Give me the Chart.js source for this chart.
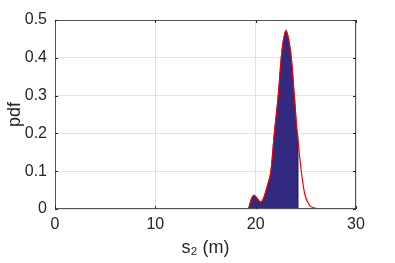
<!DOCTYPE html>
<html>
<head>
<meta charset="utf-8">
<script src="https://cdn.jsdelivr.net/npm/chart.js@4"></script>
<style>
    html, body { margin: 0; padding: 0; background: #fff; }
    #wrap { width: 395px; height: 263px; position: relative; }
</style>
</head>
<body>
<div id="wrap"><canvas id="pdf-chart"></canvas></div>
<script>
// kernel density estimate (red line)
const kdeX = [19.0, 19.3, 19.55, 19.83, 20.1, 20.5, 20.8, 21.2, 21.52, 21.86, 22.25, 22.55, 22.74, 23.02, 23.33, 23.55, 23.85, 24.15, 24.55, 24.88, 25.37, 25.8, 26.4, 27.0];
const kdeY = [0, 0.003, 0.025, 0.037, 0.03, 0.019, 0.03, 0.065, 0.1, 0.2, 0.3, 0.4, 0.443, 0.473, 0.443, 0.4, 0.3, 0.2, 0.1, 0.041, 0.01, 0.003, 0, 0];

// filled area (cut off at the right)
const areaX = [19.2, 19.3, 19.55, 19.83, 20.1, 20.5, 20.8, 21.2, 21.52, 21.86, 22.25, 22.55, 22.74, 23.02, 23.33, 23.55, 23.85, 24.15, 24.22, 24.23];
const areaY = [0, 0.003, 0.025, 0.036, 0.029, 0.018, 0.029, 0.064, 0.1, 0.199, 0.3, 0.4, 0.442, 0.47, 0.442, 0.4, 0.3, 0.2, 0.18, 0];

const xTicks = [0, 10, 20, 30];
const yTicks = [0, 0.1, 0.2, 0.3, 0.4, 0.5];

const toPoints = (xs, ys) => xs.map((x, i) => ({ x, y: ys[i] }));

// matlab style box + inward ticks
const boxPlugin = {
    id: 'box',
    afterDraw(chart) {
        const { ctx, chartArea: a, scales } = chart;
        ctx.save();
        ctx.strokeStyle = '#555';
        ctx.lineWidth = 1;
        ctx.strokeRect(a.left + 0.5, a.top + 0.5, a.right - a.left - 1, a.bottom - a.top - 1);
        ctx.strokeStyle = '#262626';
        ctx.beginPath();
        xTicks.forEach(v => {
            const px = Math.round(scales.x.getPixelForValue(v)) + 0.5;
            ctx.moveTo(px, a.bottom); ctx.lineTo(px, a.bottom - 3);
            ctx.moveTo(px, a.top); ctx.lineTo(px, a.top + 3);
        });
        yTicks.forEach(v => {
            const py = Math.round(scales.y.getPixelForValue(v)) + 0.5;
            ctx.moveTo(a.left, py); ctx.lineTo(a.left + 3, py);
            ctx.moveTo(a.right, py); ctx.lineTo(a.right - 3, py);
        });
        ctx.stroke();
        ctx.restore();
    }
};

const tickFont = { family: 'Liberation Sans', size: 16 };
const titleFont = { family: 'Liberation Sans', size: 18 };

new Chart(document.getElementById('pdf-chart'), {
    type: 'line',
    data: {
        datasets: [
            {
                label: 'kde',
                data: toPoints(kdeX, kdeY),
                borderColor: '#ff0000',
                borderWidth: 1.2,
                pointRadius: 0,
                fill: false,
                cubicInterpolationMode: 'monotone',
                order: 0
            },
            {
                label: 'area',
                data: toPoints(areaX, areaY),
                borderColor: '#15112f',
                borderWidth: 0.8,
                backgroundColor: '#312a80',
                pointRadius: 0,
                fill: 'origin',
                cubicInterpolationMode: 'monotone',
                order: 1
            }
        ]
    },
    options: {
        responsive: true,
        maintainAspectRatio: false,
        animation: false,
        layout: { padding: { top: 20, right: 39, left: 0, bottom: 0 } },
        plugins: { legend: { display: false }, tooltip: { enabled: false } },
        scales: {
            x: {
                type: 'linear',
                min: 0,
                max: 30,
                afterFit: s => { s.height = 54; },
                afterBuildTicks: s => { s.ticks = xTicks.map(v => ({ value: v })); },
                grid: { color: '#e3e3e3', drawTicks: false },
                border: { display: false },
                ticks: { font: tickFont, color: '#262626', padding: 6, maxRotation: 0 },
                title: {
                    display: true,
                    text: 's\u2082 (m)',
                    font: titleFont,
                    color: '#262626',
                    padding: { top: 0 }
                }
            },
            y: {
                min: 0,
                max: 0.5,
                afterFit: s => { s.width = 55; },
                afterBuildTicks: s => { s.ticks = yTicks.map(v => ({ value: v })); },
                grid: { color: '#e3e3e3', drawTicks: false },
                border: { display: false },
                ticks: {
                    font: tickFont,
                    color: '#262626',
                    padding: 8,
                    callback: v => String(Math.round(v * 10) / 10)
                },
                title: {
                    display: true,
                    text: 'pdf',
                    font: titleFont,
                    color: '#262626',
                    padding: { bottom: 0 }
                }
            }
        }
    },
    plugins: [boxPlugin]
});
</script>
</body>
</html>
